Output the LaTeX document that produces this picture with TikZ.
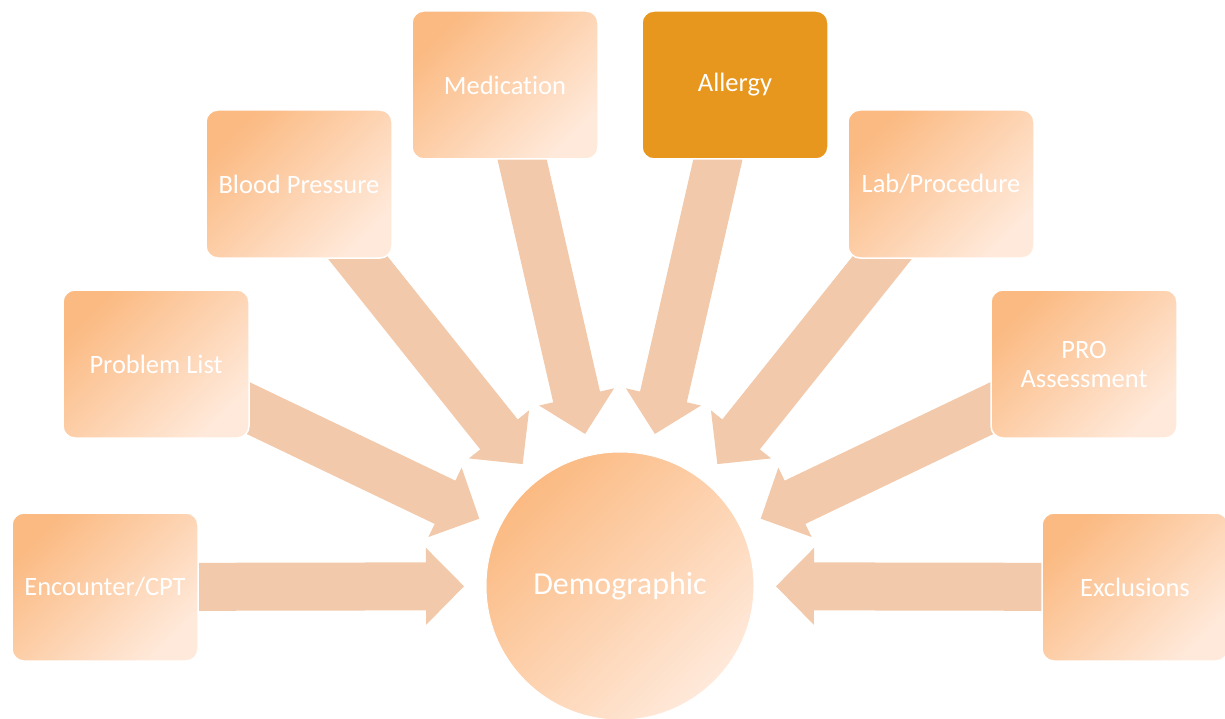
\documentclass[tikz,border=0pt]{standalone}
\usepackage{fontspec}
\setmainfont{Carlito}[Ligatures=NoCommon]
\usetikzlibrary{calc}

\definecolor{boxdark}{HTML}{FBBA82}
\definecolor{boxlight}{HTML}{FFE9DA}
\definecolor{arrowfill}{HTML}{F2C9AA}
\definecolor{accent}{HTML}{E8971E}

\pgfdeclarelayer{back}
\pgfsetlayers{back,main}

\tikzset{
  card/.style={rectangle, rounded corners=12pt, minimum width=186pt,
    minimum height=148pt, inner sep=0pt, draw=white, line width=1.5pt,
    top color=boxdark, bottom color=boxlight, shading angle=45,
    text=white, align=center, font=\fontsize{26.5}{29}\selectfont},
  activecard/.style={card, fill=accent, shading=none, top color=accent,
    bottom color=accent},
  hub/.style={circle, minimum size=268pt, inner sep=0pt, draw=white,
    line width=1pt, top color=boxdark, bottom color=boxlight,
    shading angle=45, text=white, font=\fontsize{32}{36}\selectfont},
  feed/.style={fill=arrowfill, draw=none}
}

% block arrow from the centre of a card (#1) to a tip coordinate (#2)
\newcommand\feedarrow[2]{%
  \coordinate (#2-base) at ($(#2)!38pt!(#1)$);
  \begin{pgfonlayer}{back}
  \fill[feed] ($(#1)!24pt!90:(#2)$)
    -- ($(#2-base)!24pt!90:(#2)$)
    -- ($(#2-base)!38.5pt!90:(#2)$)
    -- (#2)
    -- ($(#2-base)!38.5pt!-90:(#2)$)
    -- ($(#2-base)!24pt!-90:(#2)$)
    -- ($(#1)!24pt!-90:(#2)$) -- cycle;
  \end{pgfonlayer}
}

\begin{document}
\begin{tikzpicture}[x=1pt, y=-1pt]
\useasboundingbox (0,0) rectangle (1225,719);

\node[hub] (dem) at (620,586) {Demographic};

\node[card] (enc)  at (105,587)  {Encounter/CPT};
\node[card] (prob) at (156,364)  {Problem List};
\node[card] (bp)   at (299,184)  {Blood Pressure};
\node[card] (med)  at (505,85)   {Medication};
\node[activecard] (all) at (735,85) {Allergy};
\node[card] (lab)  at (941,184)  {Lab/Procedure};
\node[card] (pro)  at (1084,364) {PRO\\Assessment};
\node[card] (exc)  at (1135,587) {Exclusions};

\foreach \b in {enc,prob,bp,med,all,lab,pro,exc}{
  \coordinate (t\b) at ($(dem)!156pt!(\b)$);
  \feedarrow{\b}{t\b}
}
\end{tikzpicture}
\end{document}
